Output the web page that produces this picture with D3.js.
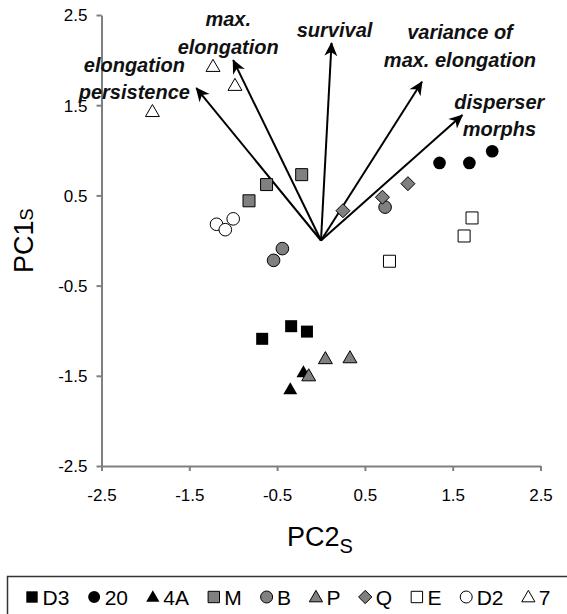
<!DOCTYPE html>
<html>
<head>
<meta charset="utf-8">
<script src="https://cdn.jsdelivr.net/npm/d3@7"></script>
<style>
  html, body { margin: 0; padding: 0; background: #fff; }
  svg { display: block; font-family: "Liberation Sans", Arial, sans-serif; }
</style>
</head>
<body>
<svg id="chart" width="567" height="614"></svg>
<script>
// ---------- data ----------
const groups = ["D3", "20", "4A", "M", "B", "P", "Q", "E", "D2", "7"];
const groupShape = ["square", "circle", "triangle", "square", "circle", "triangle", "diamond", "square", "circle", "triangle"];
const groupFill = ["black", "black", "black", "gray", "gray", "gray", "gray", "white", "white", "white"];

// PC2s (x) and PC1s (y) scores per group
const pointsD3 = [[-0.67, -1.09], [-0.34, -0.95], [-0.16, -1.01]];
const points20 = [[1.35, 0.86], [1.69, 0.86], [1.95, 0.99]];
const points4A = [[-0.20, -1.46], [-0.35, -1.65]];
const pointsM  = [[-0.22, 0.73], [-0.62, 0.62], [-0.82, 0.44]];
const pointsB  = [[0.73, 0.37], [-0.44, -0.09], [-0.54, -0.22]];
const pointsP  = [[-0.14, -1.50], [0.05, -1.31], [0.33, -1.30]];
const pointsQ  = [[0.25, 0.33], [0.70, 0.48], [0.99, 0.63]];
const pointsE  = [[1.72, 0.25], [1.63, 0.05], [0.78, -0.23]];
const pointsD2 = [[-1.19, 0.18], [-1.09, 0.12], [-1.00, 0.24]];
const points7  = [[-1.23, 1.93], [-0.98, 1.72], [-1.92, 1.43]];
const groupPoints = [pointsD3, points20, points4A, pointsM, pointsB, pointsP, pointsQ, pointsE, pointsD2, points7];

// loading vectors (arrow tips)
const vectorNames = [["elongation", "persistence"], ["max.", "elongation"], ["survival"], ["variance of", "max. elongation"], ["disperser", "morphs"]];
const vectorX = [-1.42, -1.00, 0.12, 1.15, 1.61];
const vectorY = [1.69, 2.00, 2.19, 1.76, 1.39];

const xTicks = [-2.5, -1.5, -0.5, 0.5, 1.5, 2.5];
const yTicks = [-2.5, -1.5, -0.5, 0.5, 1.5, 2.5];

// ---------- layout ----------
const svg = d3.select("#chart");
const x = d3.scaleLinear().domain([-2.5, 2.5]).range([101.5, 540.5]);
const y = d3.scaleLinear().domain([-2.5, 2.5]).range([466, 15]);
const axisColor = "#808080";
const fillMap = { black: "#000", gray: "#808080", white: "#fff" };
const fmt = d => d.toFixed(1); // plain hyphen-minus like the original

// label placement (pixel offsets relative to arrow tip)
const labelPos = [
  { dx: -62, lines: [71.5, 99] },
  { dx: -5, lines: [26, 53.5] },
  { dx: 3, lines: [36.5] },
  { dx: 38, lines: [38.5, 66.5] },
  { dx: 37, lines: [108.5, 136] }
];

// ---------- axes ----------
const xAxis = d3.axisBottom(x).tickValues(xTicks).tickFormat(fmt).tickSize(5).tickSizeOuter(0);
const yAxis = d3.axisLeft(y).tickValues(yTicks).tickFormat(fmt).tickSize(5).tickSizeOuter(0);

const gx = svg.append("g").attr("transform", `translate(0,${y(-2.5)})`).call(xAxis);
const gy = svg.append("g").attr("transform", `translate(${x(-2.5)},0)`).call(yAxis);
[gx, gy].forEach(g => {
  g.select(".domain").attr("stroke", axisColor).attr("stroke-width", 2);
  g.selectAll(".tick line").attr("stroke", axisColor).attr("stroke-width", 2);
  g.selectAll(".tick text").attr("fill", "#000").attr("font-size", 17)
    .attr("font-family", "'Liberation Sans', Arial, sans-serif");
});
gx.selectAll(".tick text").attr("dy", null).attr("y", 35);
gy.selectAll(".tick text").attr("x", -14).attr("dy", "0.35em");

// axis titles
const xt = svg.append("text").attr("x", 287).attr("y", 546).attr("font-size", 27).attr("fill", "#000");
xt.append("tspan").text("PC2");
xt.append("tspan").attr("font-size", 20).attr("dy", 7).text("S");

const yt = svg.append("text").attr("transform", "translate(33,273) rotate(-90)")
  .attr("font-size", 27).attr("fill", "#000");
yt.append("tspan").text("PC1");
yt.append("tspan").attr("font-size", 18).text("S");

// ---------- arrows ----------
const defs = svg.append("defs");
defs.append("marker")
  .attr("id", "head").attr("markerUnits", "userSpaceOnUse")
  .attr("viewBox", "-15 -8 17 16").attr("refX", 0).attr("refY", 0)
  .attr("markerWidth", 17).attr("markerHeight", 16).attr("orient", "auto")
  .append("path").attr("d", "M1,0 L-13,-6.5 L-9,0 L-13,6.5 Z").attr("fill", "#000");

svg.append("g").selectAll("line").data(vectorX).join("line")
  .attr("x1", x(0)).attr("y1", y(0))
  .attr("x2", d => x(d)).attr("y2", (d, i) => y(vectorY[i]))
  .attr("stroke", "#000").attr("stroke-width", 2)
  .attr("marker-end", "url(#head)");

const lab = svg.append("g").attr("font-weight", "bold").attr("font-style", "italic")
  .attr("font-size", 20).attr("fill", "#111").attr("text-anchor", "middle");
vectorNames.forEach((lines, i) => {
  lines.forEach((t, j) => {
    lab.append("text")
      .attr("x", x(vectorX[i]) + labelPos[i].dx)
      .attr("y", labelPos[i].lines[j])
      .text(t);
  });
});

// ---------- symbols ----------
function symbolPath(shape, legend) {
  const s = legend ? 0.95 : 1;
  if (shape === "square") return d3.symbol(d3.symbolSquare, 144 * s * s)();
  if (shape === "circle") return d3.symbol(d3.symbolCircle, 125 * s * s)();
  if (shape === "triangle") return d3.symbol(d3.symbolTriangle, 84 * s * s)();
  // diamond: square rotated 45 degrees
  const h = 7 * s;
  return `M0,${-h}L${h},0L0,${h}L${-h},0Z`;
}

const pts = svg.append("g");
groups.forEach((g, gi) => {
  pts.append("g").selectAll("path").data(groupPoints[gi]).join("path")
    .attr("d", symbolPath(groupShape[gi], false))
    .attr("transform", d => `translate(${x(d[0])},${y(d[1]) + (groupShape[gi] === "triangle" ? 1 : 0)})`)
    .attr("fill", fillMap[groupFill[gi]])
    .attr("stroke", "#000").attr("stroke-width", groupFill[gi] === "black" ? 0 : 1);
});

// ---------- legend ----------
svg.append("rect").attr("x", 7.5).attr("y", 576.5).attr("width", 620).attr("height", 60)
  .attr("fill", "none").attr("stroke", "#333").attr("stroke-width", 1.5);

const leg = svg.append("g");
let cx = 32;
groups.forEach((g, gi) => {
  leg.append("path")
    .attr("d", symbolPath(groupShape[gi], true))
    .attr("transform", `translate(${cx},${597 + (groupShape[gi] === "triangle" ? 1 : 0)})`)
    .attr("fill", fillMap[groupFill[gi]])
    .attr("stroke", "#000").attr("stroke-width", groupFill[gi] === "black" ? 0 : 1);
  const t = leg.append("text").attr("x", cx + 10.5).attr("y", 604.5)
    .attr("font-size", 21).attr("fill", "#000").text(g);
  const w = t.node().getComputedTextLength();
  cx = cx + 10.5 + w + 24.8;
});
</script>
</body>
</html>
